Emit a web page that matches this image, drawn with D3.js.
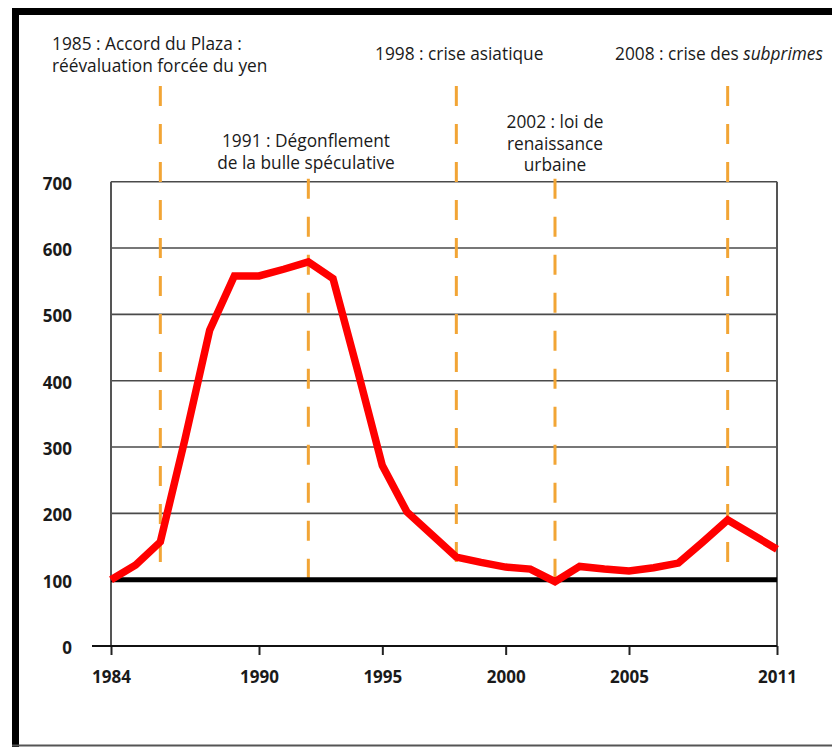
<!DOCTYPE html>
<html>
<head>
<meta charset="utf-8">
<script src="https://cdn.jsdelivr.net/npm/d3@7"></script>
<style>
  html, body { margin: 0; padding: 0; background: #fff; }
  svg { display: block; }
  text { font-family: "Open Sans", "Noto Sans", sans-serif; fill: #1a1a1a; }
</style>
</head>
<body>
<svg id="chart" width="832" height="747"></svg>
<script>
// ---- data ----
const years = [1984,1985,1986,1987,1988,1989,1990,1991,1992,1993,1994,1995,1996,1997,
               1998,1999,2000,2001,2002,2003,2004,2005,2006,2007,2008,2009,2010,2011];
const values = [100,122,157,312,476,558,558,568,579,554,415,272,202,168,
                134,126,119,116,97,120,116,113,118,125,157,190,168,146];
const yTicks = [0,100,200,300,400,500,600,700];
const xTicks = [1984,1990,1995,2000,2005,2011];
const eventYears = [1986,1992,1998,2002,2009];
const eventTopAbove = [true,false,true,false,true];
const baseValue = 100;
const notes = [
  {lines:["1985 : Accord du Plaza :","réévaluation forcée du yen"], anchor:"start"},
  {lines:["1998 : crise asiatique"], anchor:"start"},
  {lines:["2008 : crise des |subprimes"], anchor:"start"},
  {lines:["1991 : Dégonflement","de la bulle spéculative"], anchor:"middle"},
  {lines:["2002 : loi de","renaissance","urbaine"], anchor:"middle"}
];
const notePos = [[52,50],[375,60],[615,60],[306,147],[555,128]];

// ---- layout ----
const svg = d3.select("#chart");
const L = 111, R = 777, T = 181.7, B = 646;
const x = d3.scaleLinear().domain([1984, 2011]).range([L, R]);
const y = d3.scaleLinear().domain([0, 700]).range([B, T]);

// frame
svg.append("line").attr("x1", 12).attr("x2", 832).attr("y1", 11.5).attr("y2", 11.5)
  .attr("stroke", "#000").attr("stroke-width", 7);
svg.append("line").attr("x1", 15.5).attr("x2", 15.5).attr("y1", 8).attr("y2", 747)
  .attr("stroke", "#000").attr("stroke-width", 7);
svg.append("line").attr("x1", 12).attr("x2", 832).attr("y1", 745.5).attr("y2", 745.5)
  .attr("stroke", "#555").attr("stroke-width", 2);

// gridlines
svg.append("g").selectAll("line").data(yTicks.filter(d => d > 0)).join("line")
  .attr("x1", L).attr("x2", R).attr("y1", d => y(d)).attr("y2", d => y(d))
  .attr("stroke", "#4a4a4a").attr("stroke-width", 1.6);

// plot verticals
[L, R].forEach(px => {
  svg.append("line").attr("x1", px).attr("x2", px).attr("y1", T).attr("y2", B)
    .attr("stroke", "#555").attr("stroke-width", 2);
});

// y axis
const yAxis = svg.append("g").attr("transform", "translate(74,2)")
  .call(d3.axisLeft(y).tickValues(yTicks).tickSize(0).tickPadding(2));
yAxis.select(".domain").remove();
yAxis.selectAll("text").attr("font-size", 17).attr("font-weight", 700)
  .attr("font-family", "'Open Sans', sans-serif").attr("fill", "#111");

// x axis
const xAxis = svg.append("g").attr("transform", `translate(0,${B})`)
  .call(d3.axisBottom(x).tickValues(xTicks).tickFormat(d3.format("d")).tickSize(9).tickPadding(16));
xAxis.select(".domain").remove();
xAxis.selectAll(".tick line").attr("stroke", "#222").attr("stroke-width", 2);
xAxis.selectAll("text").attr("font-size", 17).attr("font-weight", 700)
  .attr("font-family", "'Open Sans', sans-serif").attr("fill", "#111");
svg.append("line").attr("x1", L - 19).attr("x2", R).attr("y1", B).attr("y2", B)
  .attr("stroke", "#111").attr("stroke-width", 2);

// event dashed lines
svg.append("g").selectAll("line").data(eventYears).join("line")
  .attr("x1", d => x(d)).attr("x2", d => x(d))
  .attr("y1", (d, i) => eventTopAbove[i] ? 86 : T - 3)
  .attr("y2", y(baseValue))
  .attr("stroke", "#F2A535").attr("stroke-width", 3)
  .attr("stroke-dasharray", "20,18");

// base line at 100
svg.append("line").attr("x1", L).attr("x2", R)
  .attr("y1", y(baseValue)).attr("y2", y(baseValue))
  .attr("stroke", "#000").attr("stroke-width", 5);

// data line
const line = d3.line().x((d, i) => x(years[i])).y(d => y(d));
svg.append("path").datum(values).attr("d", line)
  .attr("fill", "none").attr("stroke", "#FF0000").attr("stroke-width", 7.5)
  .attr("stroke-linejoin", "miter");

// annotations
notes.forEach((n, i) => {
  const t = svg.append("text").attr("x", notePos[i][0]).attr("y", notePos[i][1])
    .attr("text-anchor", n.anchor).attr("font-size", 17.3);
  n.lines.forEach((ln, j) => {
    const parts = ln.split("|");
    const ts = t.append("tspan").attr("x", notePos[i][0]).attr("dy", j === 0 ? 0 : 21.5).text(parts[0]);
    if (parts.length > 1) t.append("tspan").attr("font-style", "italic").text(parts[1]);
  });
});
</script>
</body>
</html>
